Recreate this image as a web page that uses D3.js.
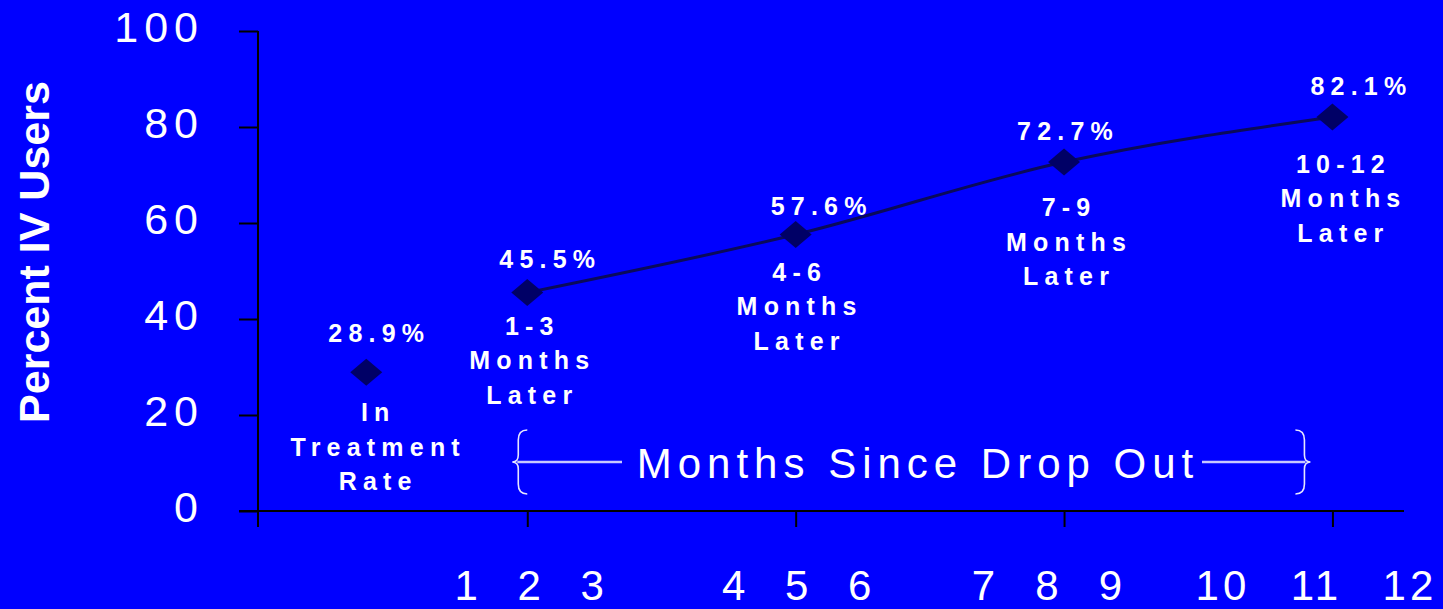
<!DOCTYPE html>
<style>
body {
  margin: 0;
  background: #0000ff;
  font-family: 'Liberation Sans', Arial, sans-serif;
}
.axis .domain {
  display: none;
}
</style>
<svg width="1443" height="609"></svg>
<script src="https://d3js.org/d3.v7.min.js"></script>
<script>
// chart data
var periods = ["In Treatment", "1-3", "4-6", "7-9", "10-12"];
var periodLabels = [
  ["In", "Treatment", "Rate"],
  ["1-3", "Months", "Later"],
  ["4-6", "Months", "Later"],
  ["7-9", "Months", "Later"],
  ["10-12", "Months", "Later"]
];
var periodMonth = [0.2, 2, 5, 8, 11];
var percentIV = [28.9, 45.5, 57.6, 72.7, 82.1];
var yTicks = [0, 20, 40, 60, 80, 100];
var axisMonths = [2, 5, 8, 11];
var monthGroups = [[1, 2, 3], [4, 5, 6], [7, 8, 9], [10, 11, 12]];
var bracketTitle = "Months Since Drop Out";
var yTitle = "Percent IV Users";

var svg = d3.select("svg"),
    width = +svg.attr("width"),
    height = +svg.attr("height");

svg.append("rect")
    .attr("width", width)
    .attr("height", height)
    .attr("fill", "#0000ff");

// scales
var x = d3.scaleLinear()
    .domain([-1.2, 11.8])
    .range([241, 1404]);

var y = d3.scaleLinear()
    .domain([0, 100])
    .range([511, 31]);

// y axis
svg.append("g")
    .attr("class", "axis")
    .attr("transform", "translate(258,0)")
    .call(d3.axisLeft(y).tickValues(yTicks).tickSize(19).tickPadding(35))
    .call(function(g) {
      g.selectAll("line").attr("stroke", "#000").attr("stroke-width", 2);
      g.selectAll("text")
        .attr("fill", "#fff")
        .attr("font-size", 43)
        .attr("letter-spacing", 6)
        .attr("dy", "0.25em")
        .style("font-family", "'Liberation Sans', Arial, sans-serif");
    });

svg.append("line")
    .attr("x1", 258).attr("x2", 258)
    .attr("y1", y(100)).attr("y2", y(0) + 16)
    .attr("stroke", "#000")
    .attr("stroke-width", 2);

// x axis
svg.append("g")
    .attr("class", "axis")
    .attr("transform", "translate(0," + y(0) + ")")
    .call(d3.axisBottom(x).tickValues(axisMonths).tickSize(16).tickFormat(""))
    .call(function(g) {
      g.selectAll("line").attr("stroke", "#000").attr("stroke-width", 2);
    });

svg.append("line")
    .attr("x1", x(-1.2) - 2).attr("x2", x(11.8))
    .attr("y1", y(0)).attr("y2", y(0))
    .attr("stroke", "#000")
    .attr("stroke-width", 2);

// month numbers under the axis, three per tick
var groupShift = [2, 1, -17, -18],
    groupStep = [63, 63, 63.5, 93.5];

monthGroups.forEach(function(grp, gi) {
  svg.append("g").selectAll("text")
    .data(grp)
    .enter().append("text")
      .attr("x", function(d, i) { return x(axisMonths[gi]) + groupShift[gi] + (i - 1) * groupStep[gi] + 2; })
      .attr("y", 600)
      .attr("text-anchor", "middle")
      .attr("fill", "#fff")
      .attr("font-size", 42)
      .attr("letter-spacing", 4)
      .text(function(d) { return d; });
});

// y title
svg.append("text")
    .attr("transform", "translate(49,252) rotate(-90)")
    .attr("text-anchor", "middle")
    .attr("fill", "#fff")
    .attr("font-size", 43)
    .attr("font-weight", "bold")
    .text(yTitle);

// bracket "Months Since Drop Out"
var bl = x(2) - 15, br = x(11) - 22, by = 462, bh = 32;

function brace(xTip, dir) {
  var xs = xTip + dir * 6, xe = xTip + dir * 15;
  return "M" + xe + "," + (by - bh) +
    " Q" + xs + "," + (by - bh) + " " + xs + "," + (by - bh + 10) +
    " L" + xs + "," + (by - 7) +
    " Q" + xs + "," + by + " " + xTip + "," + by +
    " Q" + xs + "," + by + " " + xs + "," + (by + 7) +
    " L" + xs + "," + (by + bh - 10) +
    " Q" + xs + "," + (by + bh) + " " + xe + "," + (by + bh);
}

svg.append("path")
    .attr("d", brace(bl, 1))
    .attr("fill", "none")
    .attr("stroke", "#e6e6ff")
    .attr("stroke-width", 1.6);

svg.append("path")
    .attr("d", brace(br, -1))
    .attr("fill", "none")
    .attr("stroke", "#e6e6ff")
    .attr("stroke-width", 1.6);

svg.append("line")
    .attr("x1", bl + 5).attr("x2", 622)
    .attr("y1", by).attr("y2", by)
    .attr("stroke", "#c8c8ff")
    .attr("stroke-width", 2.5);

svg.append("line")
    .attr("x1", 1202).attr("x2", br - 5)
    .attr("y1", by).attr("y2", by)
    .attr("stroke", "#c8c8ff")
    .attr("stroke-width", 2.5);

svg.append("text")
    .attr("x", 918)
    .attr("y", 478)
    .attr("text-anchor", "middle")
    .attr("fill", "#fff")
    .attr("font-size", 42)
    .attr("letter-spacing", 6)
    .text(bracketTitle);

// data line (months since drop out only)
var pts = percentIV.map(function(v, i) { return { m: periodMonth[i], v: v, i: i }; });

var line = d3.line()
    .x(function(d) { return x(d.m); })
    .y(function(d) { return y(d.v); })
    .curve(d3.curveMonotoneX);

svg.append("path")
    .datum(pts.slice(1))
    .attr("d", line)
    .attr("fill", "none")
    .attr("stroke", "#0a0a5a")
    .attr("stroke-width", 3);

// diamonds
svg.append("g").selectAll("path")
    .data(pts)
    .enter().append("path")
      .attr("d", "M-16,0L0,-13.5L16,0L0,13.5Z")
      .attr("transform", function(d) { return "translate(" + x(d.m) + "," + y(d.v) + ")"; })
      .attr("fill", "#000066");

// label offsets relative to each point
var valDx = [10, 20, 23, 1, 26],
    valDy = [-30, -25, -20, -22, -22],
    catDx = [9, 2, 1, 2, 8],
    catDy = [40, 33, 37, 45, 47];

var labels = svg.append("g")
    .attr("fill", "#fff")
    .attr("font-weight", "bold")
    .attr("font-size", 25)
    .attr("letter-spacing", 6.2)
    .attr("text-anchor", "middle");

labels.selectAll(".val")
    .data(pts)
    .enter().append("text")
      .attr("class", "val")
      .attr("x", function(d) { return x(d.m) + valDx[d.i] + 3; })
      .attr("y", function(d) { return y(d.v) + valDy[d.i]; })
      .text(function(d) { return d.v.toFixed(1) + "%"; });

labels.selectAll(".cat")
    .data(pts)
    .enter().append("text")
      .attr("class", "cat")
      .attr("x", function(d) { return x(d.m) + catDx[d.i] + 3; })
      .attr("y", function(d) { return y(d.v) + catDy[d.i] + 9; })
    .selectAll("tspan")
    .data(function(d) { return periodLabels[d.i].map(function(t) { return { t: t, d: d }; }); })
    .enter().append("tspan")
      .attr("x", function(o) { return x(o.d.m) + catDx[o.d.i] + 3; })
      .attr("dy", function(o, j) { return j === 0 ? 0 : 34.5; })
      .text(function(o) { return o.t; });
</script>
